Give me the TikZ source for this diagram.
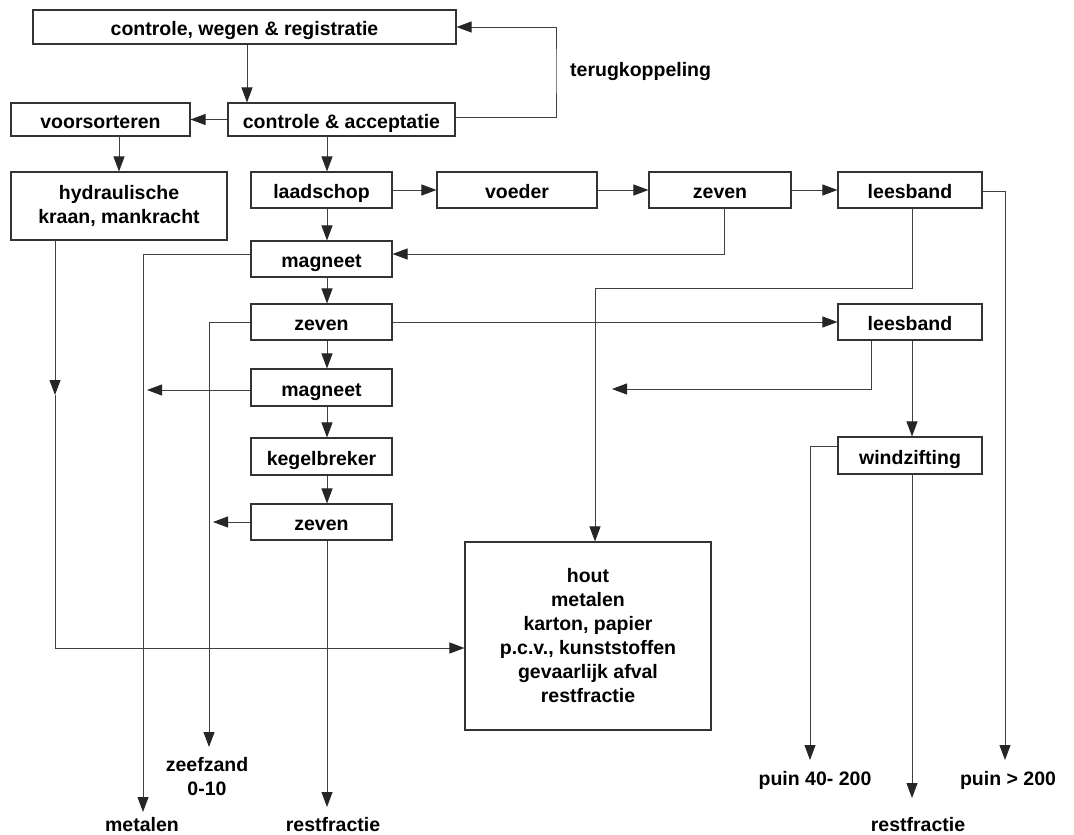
\documentclass[tikz,border=0pt]{standalone}
\usepackage{fontspec}
\setmainfont{Liberation Sans}
\usetikzlibrary{arrows.meta}
\newcommand\dgfont{\fontsize{19.5}{24}\selectfont\bfseries}
\begin{document}
\begin{tikzpicture}[x=1pt,y=-1pt,
  box/.style={draw=black!80, line width=1.1pt, fill=white, inner sep=0pt,
              align=center, font=\dgfont},
  onel/.style={box, text height=17pt, text depth=0pt},
  lbl/.style={inner sep=0pt, align=center, font=\dgfont},
  arr/.style={draw=black!75, line width=0.9pt,
              -{Triangle[length=15pt,width=11pt,color=black!85]}}]
\useasboundingbox (0,0) rectangle (1074,835);

% process boxes
\node[onel, minimum width=423pt, minimum height=34pt] (cwr) at (244.5,27) {controle, wegen \& registratie};
\node[onel, minimum width=227pt, minimum height=33pt] (ca) at (341.5,119.5) {controle \& acceptatie};
\node[onel, minimum width=179pt, minimum height=33pt] (voor) at (100.5,119.5) {voorsorteren};
\node[box, minimum width=216pt, minimum height=68pt] (hydr) at (119,206) {hydraulische\\kraan, mankracht};
\node[onel, minimum width=141pt, minimum height=36pt] (laad) at (321.5,190) {laadschop};
\node[onel, minimum width=160pt, minimum height=36pt] (voeder) at (517,190) {voeder};
\node[onel, minimum width=142pt, minimum height=36pt] (zev1) at (720,190) {zeven};
\node[onel, minimum width=144pt, minimum height=36pt] (lees1) at (910,190) {leesband};
\node[onel, minimum width=141pt, minimum height=36pt] (mag1) at (321.5,259) {magneet};
\node[onel, minimum width=141pt, minimum height=36pt] (zev2) at (321.5,322) {zeven};
\node[onel, minimum width=141pt, minimum height=37pt] (mag2) at (321.5,387.5) {magneet};
\node[onel, minimum width=141pt, minimum height=37pt] (keg) at (321.5,456.5) {kegelbreker};
\node[onel, minimum width=141pt, minimum height=36pt] (zev3) at (321.5,522) {zeven};
\node[onel, minimum width=144pt, minimum height=36pt] (lees2) at (910,322) {leesband};
\node[onel, minimum width=144pt, minimum height=37pt] (wind) at (910,455.5) {windzifting};
\node[box, minimum width=246pt, minimum height=188pt] (hout) at (588,636)
  {hout\\metalen\\karton, papier\\p.c.v., kunststoffen\\gevaarlijk afval\\restfractie};

% output labels
\node[lbl] (lmet) at (142,825) {metalen};
\node[lbl] (lzz) at (207,777) {zeefzand\\0-10};
\node[lbl] (lrf1) at (333,825) {restfractie};
\node[lbl] (lp40) at (815,780) {puin 40- 200};
\node[lbl] (lp200) at (1008,780) {puin > 200};
\node[lbl] (lrf2) at (918,825) {restfractie};
\node[lbl, anchor=west] (lfb) at (570,72) {terugkoppeling};

% helper points
\coordinate (colx) at (327,0);
\coordinate (k1) at (247,0);
\coordinate (fb) at (556,70);
\coordinate (j1) at (595,288);
\coordinate (t1) at (612,389);
\coordinate (t2) at (147,390);
\coordinate (t3) at (213,522);
\coordinate (h1) at (55,395);
\coordinate (e200) at (1005,760);
\coordinate (e40) at (810,760);
\coordinate (erf2) at (912,798);
\coordinate (emet) at (143,812);
\coordinate (ezz) at (209,747);
\coordinate (erf1) at (327,807);

% intake
\draw[arr] (cwr.south -| k1) -- (ca.north -| k1);
\draw[arr] (ca.west) -- (voor.east);
\draw[arr] (voor.south -| hydr.north) -- (hydr.north);
\draw[arr] ([yshift=2]ca.east) -| (fb) |- (cwr.east);
\draw[arr] (ca.south -| colx) -- (laad.north -| colx);

% main line
\draw[arr] (laad.east) -- (voeder.west);
\draw[arr] (voeder.east) -- (zev1.west);
\draw[arr] (zev1.east) -- (lees1.west);
\draw[arr] (laad.south -| colx) -- (mag1.north -| colx);
\draw[arr] (mag1.south -| colx) -- (zev2.north -| colx);
\draw[arr] (zev2.south -| colx) -- (mag2.north -| colx);
\draw[arr] (mag2.south -| colx) -- (keg.north -| colx);
\draw[arr] (keg.south -| colx) -- (zev3.north -| colx);
\draw[arr] (zev3.south -| colx) -- (erf1);

% returns and side streams
\draw[arr] ([xshift=4]zev1.south) |- ([yshift=5]mag1.east);
\draw[arr] ([xshift=2]lees1.south) |- (j1) -- (j1 |- hout.north);
\draw[arr] ([yshift=-1]lees1.east) -| (e200);
\draw[arr] (zev2.east) -- (lees2.west);
\draw[arr] ([xshift=-39]lees2.south) |- (t1);
\draw[arr] ([xshift=2]lees2.south) -- ([xshift=2]wind.north);
\draw[arr] ([yshift=9.5]wind.west) -| (e40);
\draw[arr] ([xshift=2]wind.south) -- (erf2);

% manual sorting
\draw[arr] (hydr.south -| h1) -- (h1);
\draw[arr] (h1) |- ([yshift=-12]hout.west);

% metal and sand outputs
\draw[arr] ([yshift=5]mag1.west) -| (emet);
\draw[arr] ([yshift=-2.5]mag2.west) -- (t2);
\draw[arr] (zev2.west) -| (ezz);
\draw[arr] (zev3.west) -- (t3);
\end{tikzpicture}
\end{document}
